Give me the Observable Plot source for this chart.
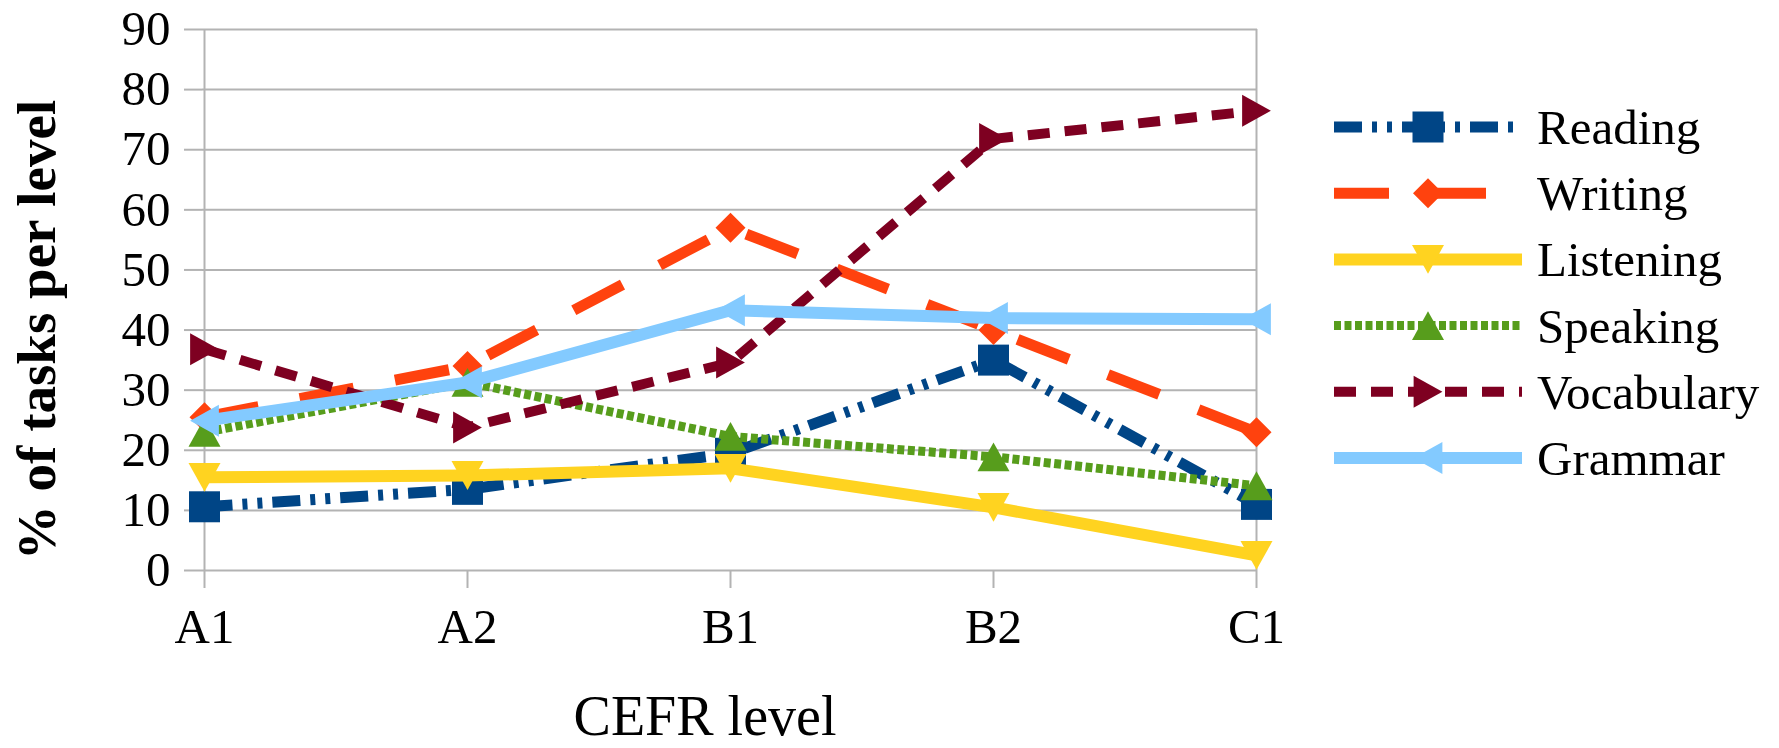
<!DOCTYPE html>
<html>
<head>
<meta charset="utf-8">
<script src="https://cdn.jsdelivr.net/npm/d3@7"></script>
<script src="https://cdn.jsdelivr.net/npm/@observablehq/plot@0.6"></script>
<style>
  body { margin: 0; background: #fff; }
  #wrap { position: relative; width: 1779px; height: 748px; background: #fff; }
  #wrap svg { display: block; }
</style>
</head>
<body>
<div id="wrap"></div>
<script>
// ---- data ----
const levels = ["A1", "A2", "B1", "B2", "C1"];
const reading    = [10.6, 13.5, 19.5, 35.0, 11.0];
const writing    = [25.5, 34.0, 57.0, 40.0, 23.0];
const listening  = [15.5, 15.8, 17.0, 10.5, 2.5];
const speaking   = [23.0, 31.3, 22.3, 18.9, 14.1];
const vocabulary = [36.8, 23.8, 34.6, 71.8, 76.5];
const grammar    = [24.9, 31.3, 43.3, 42.0, 41.8];
const seriesNames = ["Reading", "Writing", "Listening", "Speaking", "Vocabulary", "Grammar"];
const yTicks = [0, 10, 20, 30, 40, 50, 60, 70, 80, 90];
const xTitle = "CEFR level";
const yTitle = "% of tasks per level";

// ---- styles ----
const seriesValues = [reading, writing, listening, speaking, vocabulary, grammar];
const colors = ["#004586", "#ff420e", "#ffd320", "#579d1c", "#7e0021", "#83caff"];
const dashes = ["28,10,5,10,5,10", "55,42", null, "7,3.5", "22,15", null];
const widths = [11, 11, 12, 9, 10, 12];

const mk = (fn) => ({ draw(ctx, size) { const r = Math.sqrt(size / Math.PI); fn(ctx, r); } });
const symSquare = mk((c, r) => { c.moveTo(-r, -r); c.lineTo(r, -r); c.lineTo(r, r); c.lineTo(-r, r); c.closePath(); });
const symDiamond = mk((c, r) => { c.moveTo(0, -r); c.lineTo(r, 0); c.lineTo(0, r); c.lineTo(-r, 0); c.closePath(); });
const symDown = mk((c, r) => { const h = r * 0.9; c.moveTo(-r, -h); c.lineTo(r, -h); c.lineTo(0, h); c.closePath(); });
const symUp = mk((c, r) => { const h = r * 0.9; c.moveTo(-r, h); c.lineTo(r, h); c.lineTo(0, -h); c.closePath(); });
const symRight = mk((c, r) => { const h = r * 0.9; c.moveTo(-h, -r); c.lineTo(h, 0); c.lineTo(-h, r); c.closePath(); });
const symLeft = mk((c, r) => { const h = r * 0.9; c.moveTo(h, -r); c.lineTo(-h, 0); c.lineTo(h, r); c.closePath(); });
const symbols = [symSquare, symDiamond, symDown, symUp, symRight, symLeft];
const radii = [15.5, 15, 16, 16, 16, 16];

const rows = seriesNames.flatMap((s, i) => levels.map((l, j) => ({ series: s, level: l, value: seriesValues[i][j] })));

const FONT = "Liberation Serif, Times New Roman, serif";
const GRID = "#b3b3b3";

const seriesMarks = seriesNames.flatMap((s, i) => {
  const d = rows.filter(r => r.series === s);
  return [
    Plot.line(d, { x: "level", y: "value", stroke: colors[i], strokeWidth: widths[i], strokeDasharray: dashes[i] || undefined, strokeLinecap: "butt", strokeLinejoin: "round" }),
    Plot.dot(d, { x: "level", y: "value", symbol: symbols[i], r: radii[i], fill: colors[i], stroke: "none" })
  ];
});

const chart = Plot.plot({
  width: 1779,
  height: 748,
  marginLeft: 202,
  marginRight: 522,
  marginTop: 29,
  marginBottom: 178,
  style: { fontFamily: FONT, fontSize: "49px", color: "#000", background: "#fff" },
  x: { type: "point", domain: levels, padding: 0, label: null },
  y: { domain: [0, 90], label: null },
  marks: [
    Plot.ruleY(yTicks, { stroke: GRID, strokeWidth: 2 }),
    Plot.ruleX([levels[0], levels[levels.length - 1]], { stroke: GRID, strokeWidth: 2 }),
    Plot.axisY(yTicks, { tickSize: 18, tickPadding: 14, stroke: GRID, strokeWidth: 2, fill: "#000", fontSize: 49, fontFamily: FONT, label: null }),
    Plot.axisX({ tickSize: 18, tickPadding: 20, stroke: GRID, strokeWidth: 2, fill: "#000", fontSize: 49, fontFamily: FONT, label: null }),
    ...seriesMarks,
    Plot.text([xTitle], { text: d => d, frameAnchor: "bottom", dy: 164, dx: -25, lineAnchor: "bottom", textAnchor: "middle", fontSize: 56, fontFamily: FONT, fill: "#000" }),
    Plot.text([yTitle], { text: d => d, frameAnchor: "left", dx: -165, dy: 30, rotate: -90, textAnchor: "middle", lineAnchor: "middle", fontSize: 55, fontWeight: "bold", fontFamily: FONT, fill: "#000" })
  ]
});

document.getElementById("wrap").appendChild(chart);

// ---- legend ----
const legend = d3.select("#wrap").append("svg")
  .attr("width", 1779).attr("height", 748)
  .style("position", "absolute").style("left", "0px").style("top", "0px")
  .style("pointer-events", "none");
const legTop = 127, legGap = 66.2;
seriesNames.forEach((name, i) => {
  const g = legend.append("g").attr("transform", `translate(0,${legTop + i * legGap})`);
  g.append("line").attr("x1", 1334).attr("x2", 1522).attr("y1", 0).attr("y2", 0)
    .attr("stroke", colors[i]).attr("stroke-width", widths[i])
    .attr("stroke-dasharray", dashes[i] || null);
  g.append("path").attr("transform", "translate(1428,0)")
    .attr("d", d3.symbol(symbols[i], Math.PI * radii[i] * radii[i])())
    .attr("fill", colors[i]);
  g.append("text").attr("x", 1537).attr("y", 17)
    .attr("font-family", FONT).attr("font-size", 49).attr("fill", "#000")
    .text(name);
});
</script>
</body>
</html>
